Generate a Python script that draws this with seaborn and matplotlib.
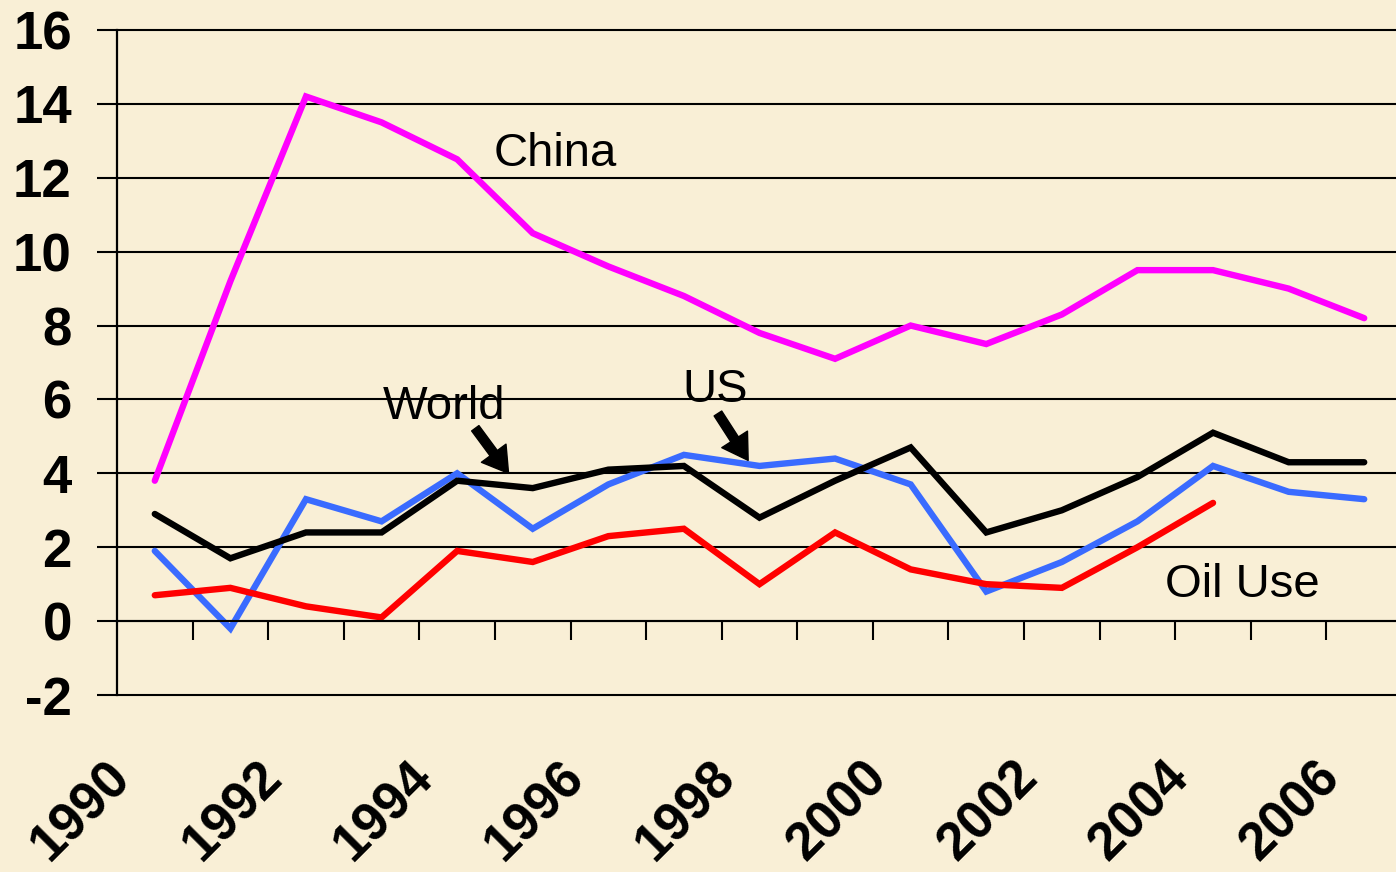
import numpy as np
import pandas as pd
import matplotlib
matplotlib.use("Agg")
import matplotlib.pyplot as plt
import matplotlib.transforms as mtransforms
import seaborn as sns

# -------------------------------
# Data (annual growth, %)
# -------------------------------
years = list(range(1990, 2007))
china = [3.8, 9.2, 14.2, 13.5, 12.5, 10.5, 9.6, 8.8, 7.8, 7.1, 8.0, 7.5, 8.3, 9.5, 9.5, 9.0, 8.2]
world = [2.9, 1.7, 2.4, 2.4, 3.8, 3.6, 4.1, 4.2, 2.8, 3.8, 4.7, 2.4, 3.0, 3.9, 5.1, 4.3, 4.3]
us = [1.9, -0.2, 3.3, 2.7, 4.0, 2.5, 3.7, 4.5, 4.2, 4.4, 3.7, 0.8, 1.6, 2.7, 4.2, 3.5, 3.3]
oil_use = [0.7, 0.9, 0.4, 0.1, 1.9, 1.6, 2.3, 2.5, 1.0, 2.4, 1.4, 1.0, 0.9, 2.0, 3.2, np.nan, np.nan]

series_names = ["China", "US", "World", "Oil Use"]
colors = {"China": "#FF00FF", "US": "#3A6BFF", "World": "#000000", "Oil Use": "#FF0000"}
year_labels = [str(y) for y in range(1990, 2007, 2)]

df = pd.DataFrame({"Year": years, "China": china, "US": us, "World": world, "Oil Use": oil_use})
long_df = df.melt(id_vars="Year", var_name="Series", value_name="Value").dropna()

# -------------------------------
# Style
# -------------------------------
sns.set_style("white")
plt.rcParams["font.family"] = ["Liberation Sans", "DejaVu Sans"]
plt.rcParams["axes.unicode_minus"] = False
plt.rcParams["text.color"] = "black"
plt.rcParams["xtick.color"] = "black"
plt.rcParams["ytick.color"] = "black"
plt.rcParams["lines.solid_joinstyle"] = "miter"

bg = "#F9EFD6"
fig = plt.figure(figsize=(13.96, 8.72), dpi=100, facecolor=bg)
ax = fig.add_axes([117 / 1396, 1 - 695 / 872, 1285 / 1396, (695 - 30) / 872])
ax.set_facecolor(bg)

sns.lineplot(
    data=long_df, x="Year", y="Value", hue="Series",
    hue_order=series_names, palette=colors,
    linewidth=4.6, legend=False, ax=ax,
)

ax.set_xlim(1989.5, 2006.5)
ax.set_ylim(-2, 16)
ax.set_xlabel("")
ax.set_ylabel("")

# y axis: gridlines every 2, outward ticks
ax.set_yticks(range(-2, 17, 2))
ax.yaxis.grid(True, color="black", linewidth=1.5)
for gl in ax.get_ygridlines():
    gl.set_clip_on(False)
ax.set_axisbelow(True)
ax.tick_params(axis="y", left=True, direction="out", length=14.5, width=1.5,
               color="black", labelcolor="black", pad=18, labelsize=38)
for lbl in ax.get_yticklabels():
    lbl.set_fontweight("bold")

# x axis crosses at 0, tick marks between categories
for s in ["top", "right"]:
    ax.spines[s].set_visible(False)
ax.spines["left"].set_linewidth(1.6)
ax.spines["left"].set_color("black")
ax.spines["bottom"].set_position(("data", 0))
ax.spines["bottom"].set_linewidth(1.5)
ax.spines["bottom"].set_color("black")

ax.set_xticks(range(1990, 2007, 2))
ax.set_xticklabels(year_labels, rotation=45, ha="right", va="center",
                   rotation_mode="anchor", fontsize=38, fontweight="bold", color="black")
ax.set_xticks(np.arange(1990.5, 2006, 1), minor=True)
ax.tick_params(axis="x", which="major", bottom=True, length=0, pad=107, labelcolor="black")
ax.tick_params(axis="x", which="minor", bottom=True, direction="out", length=14,
               width=1.5, color="black")
shift = mtransforms.ScaledTranslation(-0.32, 0, fig.dpi_scale_trans)
for lbl in ax.get_xticklabels():
    lbl.set_transform(lbl.get_transform() + shift)

# -------------------------------
# Labels and arrows
# -------------------------------
txt = dict(fontsize=34, color="black", ha="left", va="baseline")
ax.text(1994.48, 12.32, "China", **txt)
ax.text(1993.01, 5.46, "World", **txt)
ax.text(1996.98, 5.92, "US", **txt)
ax.text(2003.37, 0.65, "Oil Use", **txt)

arrow = dict(facecolor="black", edgecolor="black", width=6.5, headwidth=22, headlength=18, shrink=0)
ax.annotate("", xy=(1994.68, 4.0), xytext=(1994.24, 5.22), arrowprops=arrow)
ax.annotate("", xy=(1997.85, 4.35), xytext=(1997.45, 5.62), arrowprops=arrow)

fig.savefig("out.png", dpi=100, facecolor=bg)
